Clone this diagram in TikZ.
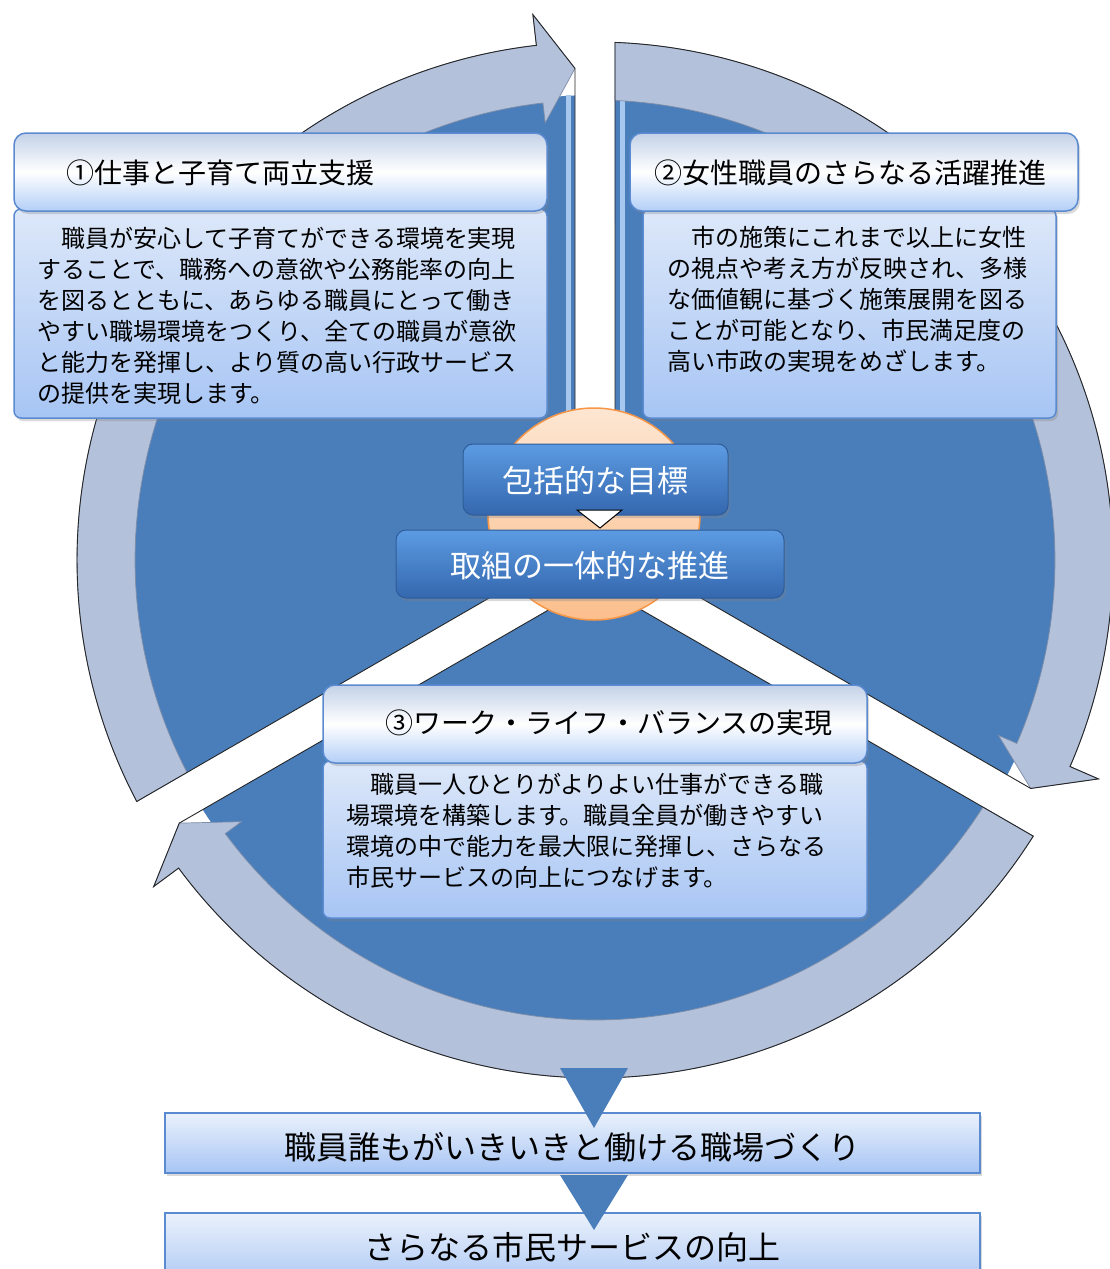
\documentclass[tikz,border=0pt]{standalone}
\usepackage{fontspec}
\setmainfont{Noto Sans CJK JP}
\usetikzlibrary{shadows}
\definecolor{secblue}{HTML}{4A7EBB}
\definecolor{bandcol}{HTML}{B4C1DA}
\definecolor{bandedge}{HTML}{7D8DA8}
\definecolor{stripecol}{HTML}{A6C8EE}
\definecolor{boxborder}{HTML}{5A8AD0}
\definecolor{hdrtop}{HTML}{C3D1E8}
\definecolor{hdrbot}{HTML}{B3CFF7}
\definecolor{bodytop}{HTML}{DDE8F9}
\definecolor{bodybot}{HTML}{A7C5F4}
\definecolor{peachtop}{HTML}{FDE6D2}
\definecolor{peachbot}{HTML}{FBBF8C}
\definecolor{orangeline}{HTML}{F79646}
\definecolor{ctrtop}{HTML}{5C9BE2}
\definecolor{ctrbot}{HTML}{3467AE}
\definecolor{ctrline}{HTML}{2E5C9A}
\tikzset{
  shad/.style={drop shadow={shadow xshift=2pt,shadow yshift=-3pt,opacity=.3}},
  hdrbox/.style={shad, draw=boxborder, line width=1.5pt, rounded corners=12pt, top color=hdrtop, bottom color=hdrbot, middle color=white, inner sep=0pt},
  bodybox/.style={shad, draw=boxborder, line width=1.5pt, rounded corners=7pt, top color=bodytop, bottom color=bodybot, inner sep=0pt},
  ctrbox/.style={shad, draw=ctrline, line width=1pt, rounded corners=10pt, top color=ctrtop, bottom color=ctrbot, inner sep=0pt},
  goalbox/.style={shad, draw=boxborder, line width=1.5pt, top color=bodytop!60!white, bottom color=bodybot, inner sep=0pt},
  hdrtext/.style={font=\fontsize{28}{34}\selectfont, text=black, inner sep=0pt},
  bodytext/.style={font=\fontsize{24}{31}\selectfont, align=left, inner sep=0pt, anchor=west},
  ctrtext/.style={font=\fontsize{31}{36}\selectfont, text=white, inner sep=0pt},
  goaltext/.style={font=\fontsize{32}{36}\selectfont, inner sep=0pt},
  outline/.style={draw=black!85, line width=0.9pt},
  bandshape/.style={fill=bandcol, draw=bandedge, line width=0.7pt},
  flowtri/.style={fill=secblue},
}
\begin{document}
\begin{tikzpicture}[x=1pt,y=-1pt]
\useasboundingbox (0,0) rectangle (1110,1269);
% sectors
\begin{scope}[shift={(595,560)}]
\foreach \sa in {150,270,30}{
  \pgfmathsetmacro\sEnd{\sa+120}
  \pgfmathsetmacro\sMid{\sa+60}
  \pgfmathsetmacro\pI{\sa+asin(20/465)}
  \pgfmathsetmacro\qI{\sEnd-asin(20/465)}
  \fill[secblue] (\sMid:23.1) -- (\pI:465) arc[start angle=\pI, end angle=\qI, radius=465] -- cycle;
}
\end{scope}
% bevel stripes
\draw[stripecol, line width=5pt] (568,95) -- (568,430);
\draw[stripecol, line width=5pt] (622,95) -- (622,430);
% bands with arrow heads
\begin{scope}[shift={(595,560)}]
\foreach \sa in {150,270,30}{
  \pgfmathsetmacro\sEnd{\sa+120}
  \pgfmathsetmacro\sMid{\sa+60}
  \pgfmathsetmacro\pA{\sa+asin(20/460)}
  \pgfmathsetmacro\pB{\sa+asin(20/518)}
  \pgfmathsetmacro\hA{\sEnd-6.5}
  \pgfmathsetmacro\tA{\sEnd-asin(20/492)}
  \path[bandshape] (\pA:460) -- (\pB:518) arc[start angle=\pB, end angle=\hA, radius=518] -- (\hA:549) -- (\tA:492) -- (\hA:440) -- (\hA:460) arc[start angle=\hA, end angle=\pA, radius=460] -- cycle;
  \draw[outline] (\sMid:23.1) -- (\pB:518) arc[start angle=\pB, end angle=\hA, radius=518] -- (\hA:549) -- (\tA:492) -- (\sMid:23.1);
}
\end{scope}
% centre circle
\node[circle, minimum size=212pt, inner sep=0pt, draw=orangeline, line width=1.5pt, top color=peachtop, bottom color=peachbot] (core) at (594,514) {};
% box 1
\node[bodybox, minimum width=533pt, minimum height=209pt] (b1) at (280.5,313.5) {};
\node[hdrbox, minimum width=533pt, minimum height=78pt] (h1) at (280.5,172) {};
\node[hdrtext] (h1t) at (220.5,173) {①仕事と子育て両立支援};
\node[bodytext] (b1t) at (37,315.5) {　職員が安心して子育てができる環境を実現\\することで、職務への意欲や公務能率の向上\\を図るとともに、あらゆる職員にとって働き\\やすい職場環境をつくり、全ての職員が意欲\\と能力を発揮し、より質の高い行政サービス\\の提供を実現します。};
% box 2
\node[bodybox, minimum width=413pt, minimum height=209pt] (b2) at (849.5,313.5) {};
\node[hdrbox, minimum width=448pt, minimum height=78pt] (h2) at (854,172) {};
\node[hdrtext] (h2t) at (850,173) {②女性職員のさらなる活躍推進};
\node[bodytext] (b2t) at (667,299.5) {　市の施策にこれまで以上に女性\\の視点や考え方が反映され、多様\\な価値観に基づく施策展開を図る\\ことが可能となり、市民満足度の\\高い市政の実現をめざします。};
% box 3
\node[bodybox, minimum width=544pt, minimum height=157pt] (b3) at (595,839.5) {};
\node[hdrbox, minimum width=544pt, minimum height=78pt] (h3) at (595,724) {};
\node[hdrtext] (h3t) at (609,723) {③ワーク・ライフ・バランスの実現};
\node[bodytext] (b3t) at (346,831) {　職員一人ひとりがよりよい仕事ができる職\\場環境を構築します。職員全員が働きやすい\\環境の中で能力を最大限に発揮し、さらなる\\市民サービスの向上につなげます。};
% centre boxes
\node[ctrbox, minimum width=265pt, minimum height=71pt] (c1) at (595.5,479.5) {};
\node[ctrtext] (c1t) at (595.5,481) {包括的な目標};
\node[ctrbox, minimum width=388pt, minimum height=68pt] (c2) at (590,564) {};
\node[ctrtext] (c2t) at (590,566) {取組の一体的な推進};
\filldraw[fill=white, draw=black, line width=1pt] (577,510) -- (622,510) -- (600,528) -- cycle;
% goal boxes
\node[goalbox, minimum width=815pt, minimum height=60pt] (g1) at (572.5,1143) {};
\node[goaltext] (g1t) at (572,1147) {職員誰もがいきいきと働ける職場づくり};
\node[goalbox, minimum width=815pt, minimum height=77pt] (g2) at (572.5,1251.5) {};
\node[goaltext] (g2t) at (572,1247) {さらなる市民サービスの向上};
\coordinate (t1a) at (560,1068);
\coordinate (t1b) at (628,1068);
\coordinate (t1c) at (594,1128);
\fill[flowtri] (t1a) -- (t1b) -- (t1c) -- cycle;
\coordinate (t2a) at (560,1175);
\coordinate (t2b) at (628,1175);
\coordinate (t2c) at (594,1230);
\fill[flowtri] (t2a) -- (t2b) -- (t2c) -- cycle;
\end{tikzpicture}
\end{document}
